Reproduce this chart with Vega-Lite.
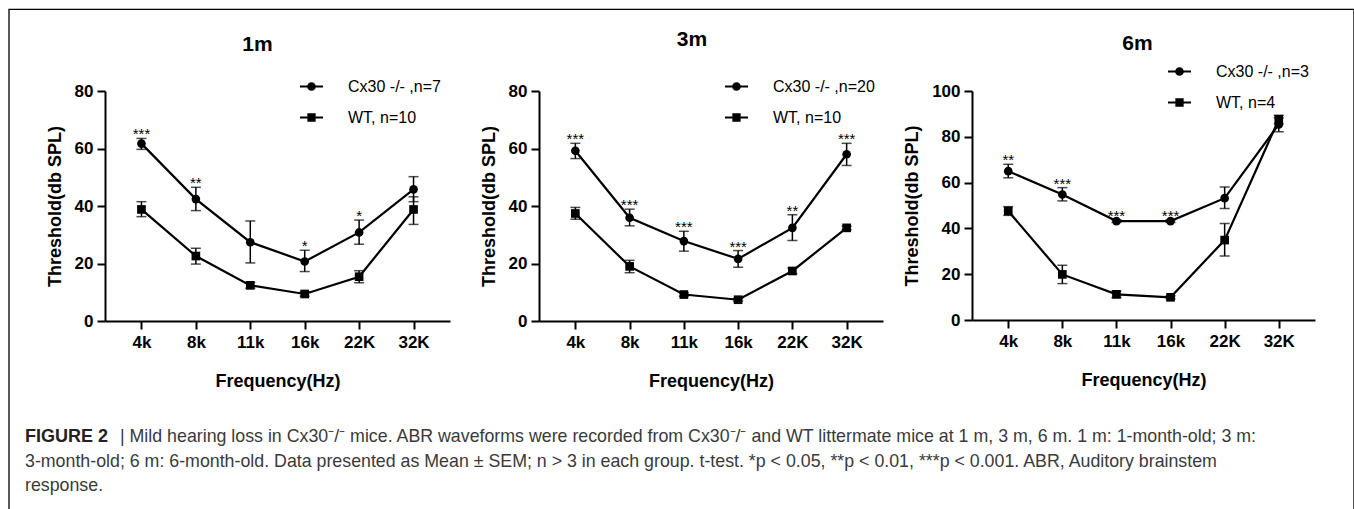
{
  "$schema": "https://vega.github.io/schema/vega-lite/v6.json",
  "padding": {"left": 7, "top": 7, "right": 0, "bottom": 0},
  "autosize": {"type": "pad"},
  "datasets": {
    "p1": [
      {"f": "4k", "g": "Cx30 -/- ,n=7", "m": 61.7, "lo": 59.7, "hi": 63.5, "s": "***"},
      {"f": "8k", "g": "Cx30 -/- ,n=7", "m": 42.4, "lo": 38.4, "hi": 46.5, "s": "**"},
      {"f": "11k", "g": "Cx30 -/- ,n=7", "m": 27.4, "lo": 20.2, "hi": 34.8, "s": ""},
      {"f": "16k", "g": "Cx30 -/- ,n=7", "m": 20.7, "lo": 17.2, "hi": 24.6, "s": "*"},
      {"f": "22K", "g": "Cx30 -/- ,n=7", "m": 30.8, "lo": 26.7, "hi": 35.1, "s": "*"},
      {"f": "32K", "g": "Cx30 -/- ,n=7", "m": 45.8, "lo": 41.5, "hi": 50.2, "s": ""},
      {"f": "4k", "g": "WT, n=10", "m": 38.8, "lo": 36.3, "hi": 41.5, "s": ""},
      {"f": "8k", "g": "WT, n=10", "m": 22.6, "lo": 19.8, "hi": 25.3, "s": ""},
      {"f": "11k", "g": "WT, n=10", "m": 12.4, "lo": 11.4, "hi": 13.4, "s": ""},
      {"f": "16k", "g": "WT, n=10", "m": 9.4, "lo": 8.6, "hi": 10.2, "s": ""},
      {"f": "22K", "g": "WT, n=10", "m": 15.4, "lo": 13.3, "hi": 17.5, "s": ""},
      {"f": "32K", "g": "WT, n=10", "m": 38.8, "lo": 33.6, "hi": 43.2, "s": ""}
    ],
    "p2": [
      {"f": "4k", "g": "Cx30 -/- ,n=20", "m": 59.2, "lo": 56.5, "hi": 61.8, "s": "***"},
      {"f": "8k", "g": "Cx30 -/- ,n=20", "m": 35.9, "lo": 33.1, "hi": 38.9, "s": "***"},
      {"f": "11k", "g": "Cx30 -/- ,n=20", "m": 27.8, "lo": 24.3, "hi": 31.2, "s": "***"},
      {"f": "16k", "g": "Cx30 -/- ,n=20", "m": 21.6, "lo": 18.7, "hi": 24.5, "s": "***"},
      {"f": "22K", "g": "Cx30 -/- ,n=20", "m": 32.4, "lo": 28.0, "hi": 37.0, "s": "**"},
      {"f": "32K", "g": "Cx30 -/- ,n=20", "m": 58.0, "lo": 54.1, "hi": 61.8, "s": "***"},
      {"f": "4k", "g": "WT, n=10", "m": 37.4, "lo": 35.4, "hi": 39.5, "s": ""},
      {"f": "8k", "g": "WT, n=10", "m": 19.0, "lo": 16.8, "hi": 21.1, "s": ""},
      {"f": "11k", "g": "WT, n=10", "m": 9.2, "lo": 8.6, "hi": 9.8, "s": ""},
      {"f": "16k", "g": "WT, n=10", "m": 7.4, "lo": 6.9, "hi": 7.9, "s": ""},
      {"f": "22K", "g": "WT, n=10", "m": 17.4, "lo": 16.4, "hi": 18.4, "s": ""},
      {"f": "32K", "g": "WT, n=10", "m": 32.4, "lo": 31.8, "hi": 33.0, "s": ""}
    ],
    "p3": [
      {"f": "4k", "g": "Cx30 -/- ,n=3", "m": 65.0, "lo": 62.1, "hi": 68.0, "s": "**"},
      {"f": "8k", "g": "Cx30 -/- ,n=3", "m": 54.8, "lo": 52.0, "hi": 57.8, "s": "***"},
      {"f": "11k", "g": "Cx30 -/- ,n=3", "m": 43.2, "lo": 42.6, "hi": 43.8, "s": "***"},
      {"f": "16k", "g": "Cx30 -/- ,n=3", "m": 43.2, "lo": 42.6, "hi": 43.8, "s": "***"},
      {"f": "22K", "g": "Cx30 -/- ,n=3", "m": 53.2, "lo": 48.7, "hi": 58.1, "s": ""},
      {"f": "32K", "g": "Cx30 -/- ,n=3", "m": 85.4, "lo": 82.2, "hi": 88.3, "s": ""},
      {"f": "4k", "g": "WT, n=4", "m": 47.6, "lo": 45.7, "hi": 49.5, "s": ""},
      {"f": "8k", "g": "WT, n=4", "m": 19.9, "lo": 15.9, "hi": 23.9, "s": ""},
      {"f": "11k", "g": "WT, n=4", "m": 11.2, "lo": 9.8, "hi": 12.6, "s": ""},
      {"f": "16k", "g": "WT, n=4", "m": 9.9, "lo": 9.3, "hi": 10.5, "s": ""},
      {"f": "22K", "g": "WT, n=4", "m": 34.9, "lo": 28.0, "hi": 42.1, "s": ""},
      {"f": "32K", "g": "WT, n=4", "m": 87.6, "lo": 85.7, "hi": 89.4, "s": ""}
    ],
    "cap": [
      {"line": 1, "part": "bold", "text": "FIGURE 2"},
      {"line": 1, "part": "rest", "text": "|  Mild hearing loss in Cx30⁻/⁻ mice. ABR waveforms were recorded from Cx30⁻/⁻ and WT littermate mice at 1 m, 3 m, 6 m. 1 m: 1-month-old; 3 m:"},
      {"line": 2, "part": "plain", "text": "3-month-old; 6 m: 6-month-old. Data presented as Mean ± SEM; n > 3 in each group. t-test. *p < 0.05, **p < 0.01, ***p < 0.001. ABR, Auditory brainstem"},
      {"line": 3, "part": "plain", "text": "response."}
    ]
  },
  "hconcat": [
    {
      "width": 7.5, "height": 230,
      "data": {"name": "cap"},
      "encoding": {
        "x": {"datum": 0, "type": "quantitative", "scale": {"domain": [0, 1]}, "axis": null},
        "y": {"field": "line", "type": "quantitative", "scale": {"domain": [-13.339, -3.951], "reverse": true, "nice": false, "zero": false}, "axis": null}
      },
      "layer": [
        {"transform": [{"filter": "datum.part == 'bold'"}], "mark": {"type": "text", "align": "left", "baseline": "alphabetic", "dx": 17, "fontSize": 18, "fontWeight": "bold", "color": "#222222"}, "encoding": {"text": {"field": "text"}}},
        {"transform": [{"filter": "datum.part == 'rest'"}], "mark": {"type": "text", "align": "left", "baseline": "alphabetic", "dx": 112, "fontSize": 17.8, "color": "#3a3a3a"}, "encoding": {"text": {"field": "text"}}},
        {"transform": [{"filter": "datum.part == 'plain'"}], "mark": {"type": "text", "align": "left", "baseline": "alphabetic", "dx": 17, "fontSize": 17.8, "color": "#3a3a3a"}, "encoding": {"text": {"field": "text"}}},
        {"transform": [{"filter": "datum.line < -1000"}], "mark": {"type": "point", "filled": false, "color": "black", "strokeWidth": 1.3, "size": 4, "opacity": 1}, "encoding": {"shape": {"field": "frame", "type": "nominal", "scale": {"domain": ["frame"], "range": ["M0,600V0H1345V600"]}, "legend": {"orient": "none", "legendX": -1, "legendY": -83.7, "labelExpr": "''", "labelFontSize": 1, "symbolSize": 4, "symbolStrokeWidth": 1.3, "symbolStrokeColor": "black", "symbolFillColor": "transparent", "rowPadding": 0}}}}
      ]
    },
    {
      "width": 345, "height": 230,
      "title": {"text": "1m", "dx": -20, "offset": 0, "dy": -20},
      "data": {"name": "p1"},
      "encoding": {"x": {"field": "f", "type": "ordinal", "scale": {"type": "point", "padding": 0.67, "domain": ["4k", "8k", "11k", "16k", "22K", "32K"]}, "axis": {"title": "Frequency(Hz)"}}},
      "layer": [
        {"mark": {"type": "line", "color": "black", "strokeWidth": 2.2}, "encoding": {"y": {"field": "m", "type": "quantitative", "scale": {"domain": [0, 80], "nice": false}, "axis": {"values": [0, 20, 40, 60, 80]}, "title": "Threshold(db SPL)"}, "detail": {"field": "g"}}},
        {"mark": {"type": "rule", "color": "black", "strokeWidth": 1.5}, "encoding": {"y": {"field": "lo", "type": "quantitative", "scale": {"domain": [0, 80], "nice": false}, "title": "Threshold(db SPL)"}, "y2": {"field": "hi"}}},
        {"mark": {"type": "tick", "color": "black", "size": 10, "thickness": 1.5}, "encoding": {"y": {"field": "lo", "type": "quantitative", "scale": {"domain": [0, 80], "nice": false}, "title": "Threshold(db SPL)"}}},
        {"mark": {"type": "tick", "color": "black", "size": 10, "thickness": 1.5}, "encoding": {"y": {"field": "hi", "type": "quantitative", "scale": {"domain": [0, 80], "nice": false}, "title": "Threshold(db SPL)"}}},
        {"mark": {"type": "point", "filled": true, "color": "black", "size": 75, "opacity": 1}, "encoding": {"y": {"field": "m", "type": "quantitative", "scale": {"domain": [0, 80], "nice": false}, "title": "Threshold(db SPL)"}, "shape": {"field": "g", "type": "nominal", "scale": {"domain": ["Cx30 -/- ,n=7", "WT, n=10"], "range": ["circle", "square"]}, "legend": null}}},
        {"transform": [{"filter": "datum.m < -1000"}], "mark": {"type": "point", "filled": true, "color": "black", "size": 529, "opacity": 1}, "encoding": {"y": {"field": "m", "type": "quantitative", "scale": {"domain": [0, 80], "nice": false}, "title": "Threshold(db SPL)"}, "shape": {"field": "g", "type": "nominal", "scale": {"domain": ["Cx30 -/- ,n=7", "WT, n=10"], "range": ["M-1,-0.085H1V0.085H-1ZM-0.38,0A0.38,0.38,0,1,1,0.38,0A0.38,0.38,0,1,1,-0.38,0Z", "M-1,-0.085H1V0.085H-1ZM-0.36,-0.36H0.36V0.36H-0.36Z"]}, "legend": {"orient": "none", "legendX": 195, "legendY": -16}}}},
        {"transform": [{"filter": "datum.s != ''"}], "mark": {"type": "text", "fontSize": 15, "baseline": "alphabetic", "color": "black", "dy": 1}, "encoding": {"y": {"field": "hi", "type": "quantitative", "scale": {"domain": [0, 80], "nice": false}, "title": "Threshold(db SPL)"}, "text": {"field": "s"}}}
      ],
      "resolve": {"scale": {"shape": "independent"}}
    },
    {
      "width": 344, "height": 230,
      "title": {"text": "3m", "dx": -19, "offset": 0, "dy": -25},
      "data": {"name": "p2"},
      "encoding": {"x": {"field": "f", "type": "ordinal", "scale": {"type": "point", "padding": 0.67, "domain": ["4k", "8k", "11k", "16k", "22K", "32K"]}, "axis": {"title": "Frequency(Hz)"}}},
      "layer": [
        {"mark": {"type": "line", "color": "black", "strokeWidth": 2.2}, "encoding": {"y": {"field": "m", "type": "quantitative", "scale": {"domain": [0, 80], "nice": false}, "axis": {"values": [0, 20, 40, 60, 80]}, "title": "Threshold(db SPL)"}, "detail": {"field": "g"}}},
        {"mark": {"type": "rule", "color": "black", "strokeWidth": 1.5}, "encoding": {"y": {"field": "lo", "type": "quantitative", "scale": {"domain": [0, 80], "nice": false}, "title": "Threshold(db SPL)"}, "y2": {"field": "hi"}}},
        {"mark": {"type": "tick", "color": "black", "size": 10, "thickness": 1.5}, "encoding": {"y": {"field": "lo", "type": "quantitative", "scale": {"domain": [0, 80], "nice": false}, "title": "Threshold(db SPL)"}}},
        {"mark": {"type": "tick", "color": "black", "size": 10, "thickness": 1.5}, "encoding": {"y": {"field": "hi", "type": "quantitative", "scale": {"domain": [0, 80], "nice": false}, "title": "Threshold(db SPL)"}}},
        {"mark": {"type": "point", "filled": true, "color": "black", "size": 75, "opacity": 1}, "encoding": {"y": {"field": "m", "type": "quantitative", "scale": {"domain": [0, 80], "nice": false}, "title": "Threshold(db SPL)"}, "shape": {"field": "g", "type": "nominal", "scale": {"domain": ["Cx30 -/- ,n=20", "WT, n=10"], "range": ["circle", "square"]}, "legend": null}}},
        {"transform": [{"filter": "datum.m < -1000"}], "mark": {"type": "point", "filled": true, "color": "black", "size": 529, "opacity": 1}, "encoding": {"y": {"field": "m", "type": "quantitative", "scale": {"domain": [0, 80], "nice": false}, "title": "Threshold(db SPL)"}, "shape": {"field": "g", "type": "nominal", "scale": {"domain": ["Cx30 -/- ,n=20", "WT, n=10"], "range": ["M-1,-0.085H1V0.085H-1ZM-0.38,0A0.38,0.38,0,1,1,0.38,0A0.38,0.38,0,1,1,-0.38,0Z", "M-1,-0.085H1V0.085H-1ZM-0.36,-0.36H0.36V0.36H-0.36Z"]}, "legend": {"orient": "none", "legendX": 186, "legendY": -16}}}},
        {"transform": [{"filter": "datum.s != ''"}], "mark": {"type": "text", "fontSize": 15, "baseline": "alphabetic", "color": "black", "dy": 1}, "encoding": {"y": {"field": "hi", "type": "quantitative", "scale": {"domain": [0, 80], "nice": false}, "title": "Threshold(db SPL)"}, "text": {"field": "s"}}}
      ],
      "resolve": {"scale": {"shape": "independent"}}
    },
    {
      "width": 343, "height": 229,
      "title": {"text": "6m", "dx": -6, "offset": 0, "dy": -6},
      "data": {"name": "p3"},
      "encoding": {"x": {"field": "f", "type": "ordinal", "scale": {"type": "point", "padding": 0.67, "domain": ["4k", "8k", "11k", "16k", "22K", "32K"]}, "axis": {"title": "Frequency(Hz)"}}},
      "layer": [
        {"mark": {"type": "line", "color": "black", "strokeWidth": 2.2}, "encoding": {"y": {"field": "m", "type": "quantitative", "scale": {"domain": [0, 100], "nice": false}, "axis": {"values": [0, 20, 40, 60, 80, 100]}, "title": "Threshold(db SPL)"}, "detail": {"field": "g"}}},
        {"mark": {"type": "rule", "color": "black", "strokeWidth": 1.5}, "encoding": {"y": {"field": "lo", "type": "quantitative", "scale": {"domain": [0, 100], "nice": false}, "title": "Threshold(db SPL)"}, "y2": {"field": "hi"}}},
        {"mark": {"type": "tick", "color": "black", "size": 10, "thickness": 1.5}, "encoding": {"y": {"field": "lo", "type": "quantitative", "scale": {"domain": [0, 100], "nice": false}, "title": "Threshold(db SPL)"}}},
        {"mark": {"type": "tick", "color": "black", "size": 10, "thickness": 1.5}, "encoding": {"y": {"field": "hi", "type": "quantitative", "scale": {"domain": [0, 100], "nice": false}, "title": "Threshold(db SPL)"}}},
        {"mark": {"type": "point", "filled": true, "color": "black", "size": 75, "opacity": 1}, "encoding": {"y": {"field": "m", "type": "quantitative", "scale": {"domain": [0, 100], "nice": false}, "title": "Threshold(db SPL)"}, "shape": {"field": "g", "type": "nominal", "scale": {"domain": ["Cx30 -/- ,n=3", "WT, n=4"], "range": ["circle", "square"]}, "legend": null}}},
        {"transform": [{"filter": "datum.m < -1000"}], "mark": {"type": "point", "filled": true, "color": "black", "size": 529, "opacity": 1}, "encoding": {"y": {"field": "m", "type": "quantitative", "scale": {"domain": [0, 100], "nice": false}, "title": "Threshold(db SPL)"}, "shape": {"field": "g", "type": "nominal", "scale": {"domain": ["Cx30 -/- ,n=3", "WT, n=4"], "range": ["M-1,-0.085H1V0.085H-1ZM-0.38,0A0.38,0.38,0,1,1,0.38,0A0.38,0.38,0,1,1,-0.38,0Z", "M-1,-0.085H1V0.085H-1ZM-0.36,-0.36H0.36V0.36H-0.36Z"]}, "legend": {"orient": "none", "legendX": 196, "legendY": -31}}}},
        {"transform": [{"filter": "datum.s != ''"}], "mark": {"type": "text", "fontSize": 15, "baseline": "alphabetic", "color": "black", "dy": 1}, "encoding": {"y": {"field": "hi", "type": "quantitative", "scale": {"domain": [0, 100], "nice": false}, "title": "Threshold(db SPL)"}, "text": {"field": "s"}}}
      ],
      "resolve": {"scale": {"shape": "independent"}}
    }
  ],
  "spacing": 89,
  "bounds": "flush",
  "config": {
    "font": "Liberation Sans",
    "view": {"stroke": null},
    "axis": {"domainColor": "black", "domainWidth": 2, "tickColor": "black", "tickWidth": 2, "tickSize": 8, "labelColor": "black", "labelFont": "Liberation Sans", "labelFontSize": 17, "labelFontWeight": "bold", "titleColor": "black", "titleFont": "Liberation Sans", "titleFontSize": 18, "titleFontWeight": "bold", "grid": false},
    "axisX": {"labelAngle": 0, "labelPadding": 5, "titlePadding": 22},
    "axisY": {"labelPadding": 4, "titlePadding": 10},
    "legend": {"title": null, "padding": 0, "labelFont": "Liberation Sans", "labelFontSize": 16, "labelColor": "black", "labelOffset": 25, "rowPadding": 11, "symbolSize": 529, "symbolFillColor": "black", "symbolStrokeColor": "black", "symbolStrokeWidth": 0, "symbolOpacity": 1},
    "title": {"font": "Liberation Sans", "fontSize": 21, "fontWeight": "bold", "color": "black", "anchor": "middle"}
  }
}
